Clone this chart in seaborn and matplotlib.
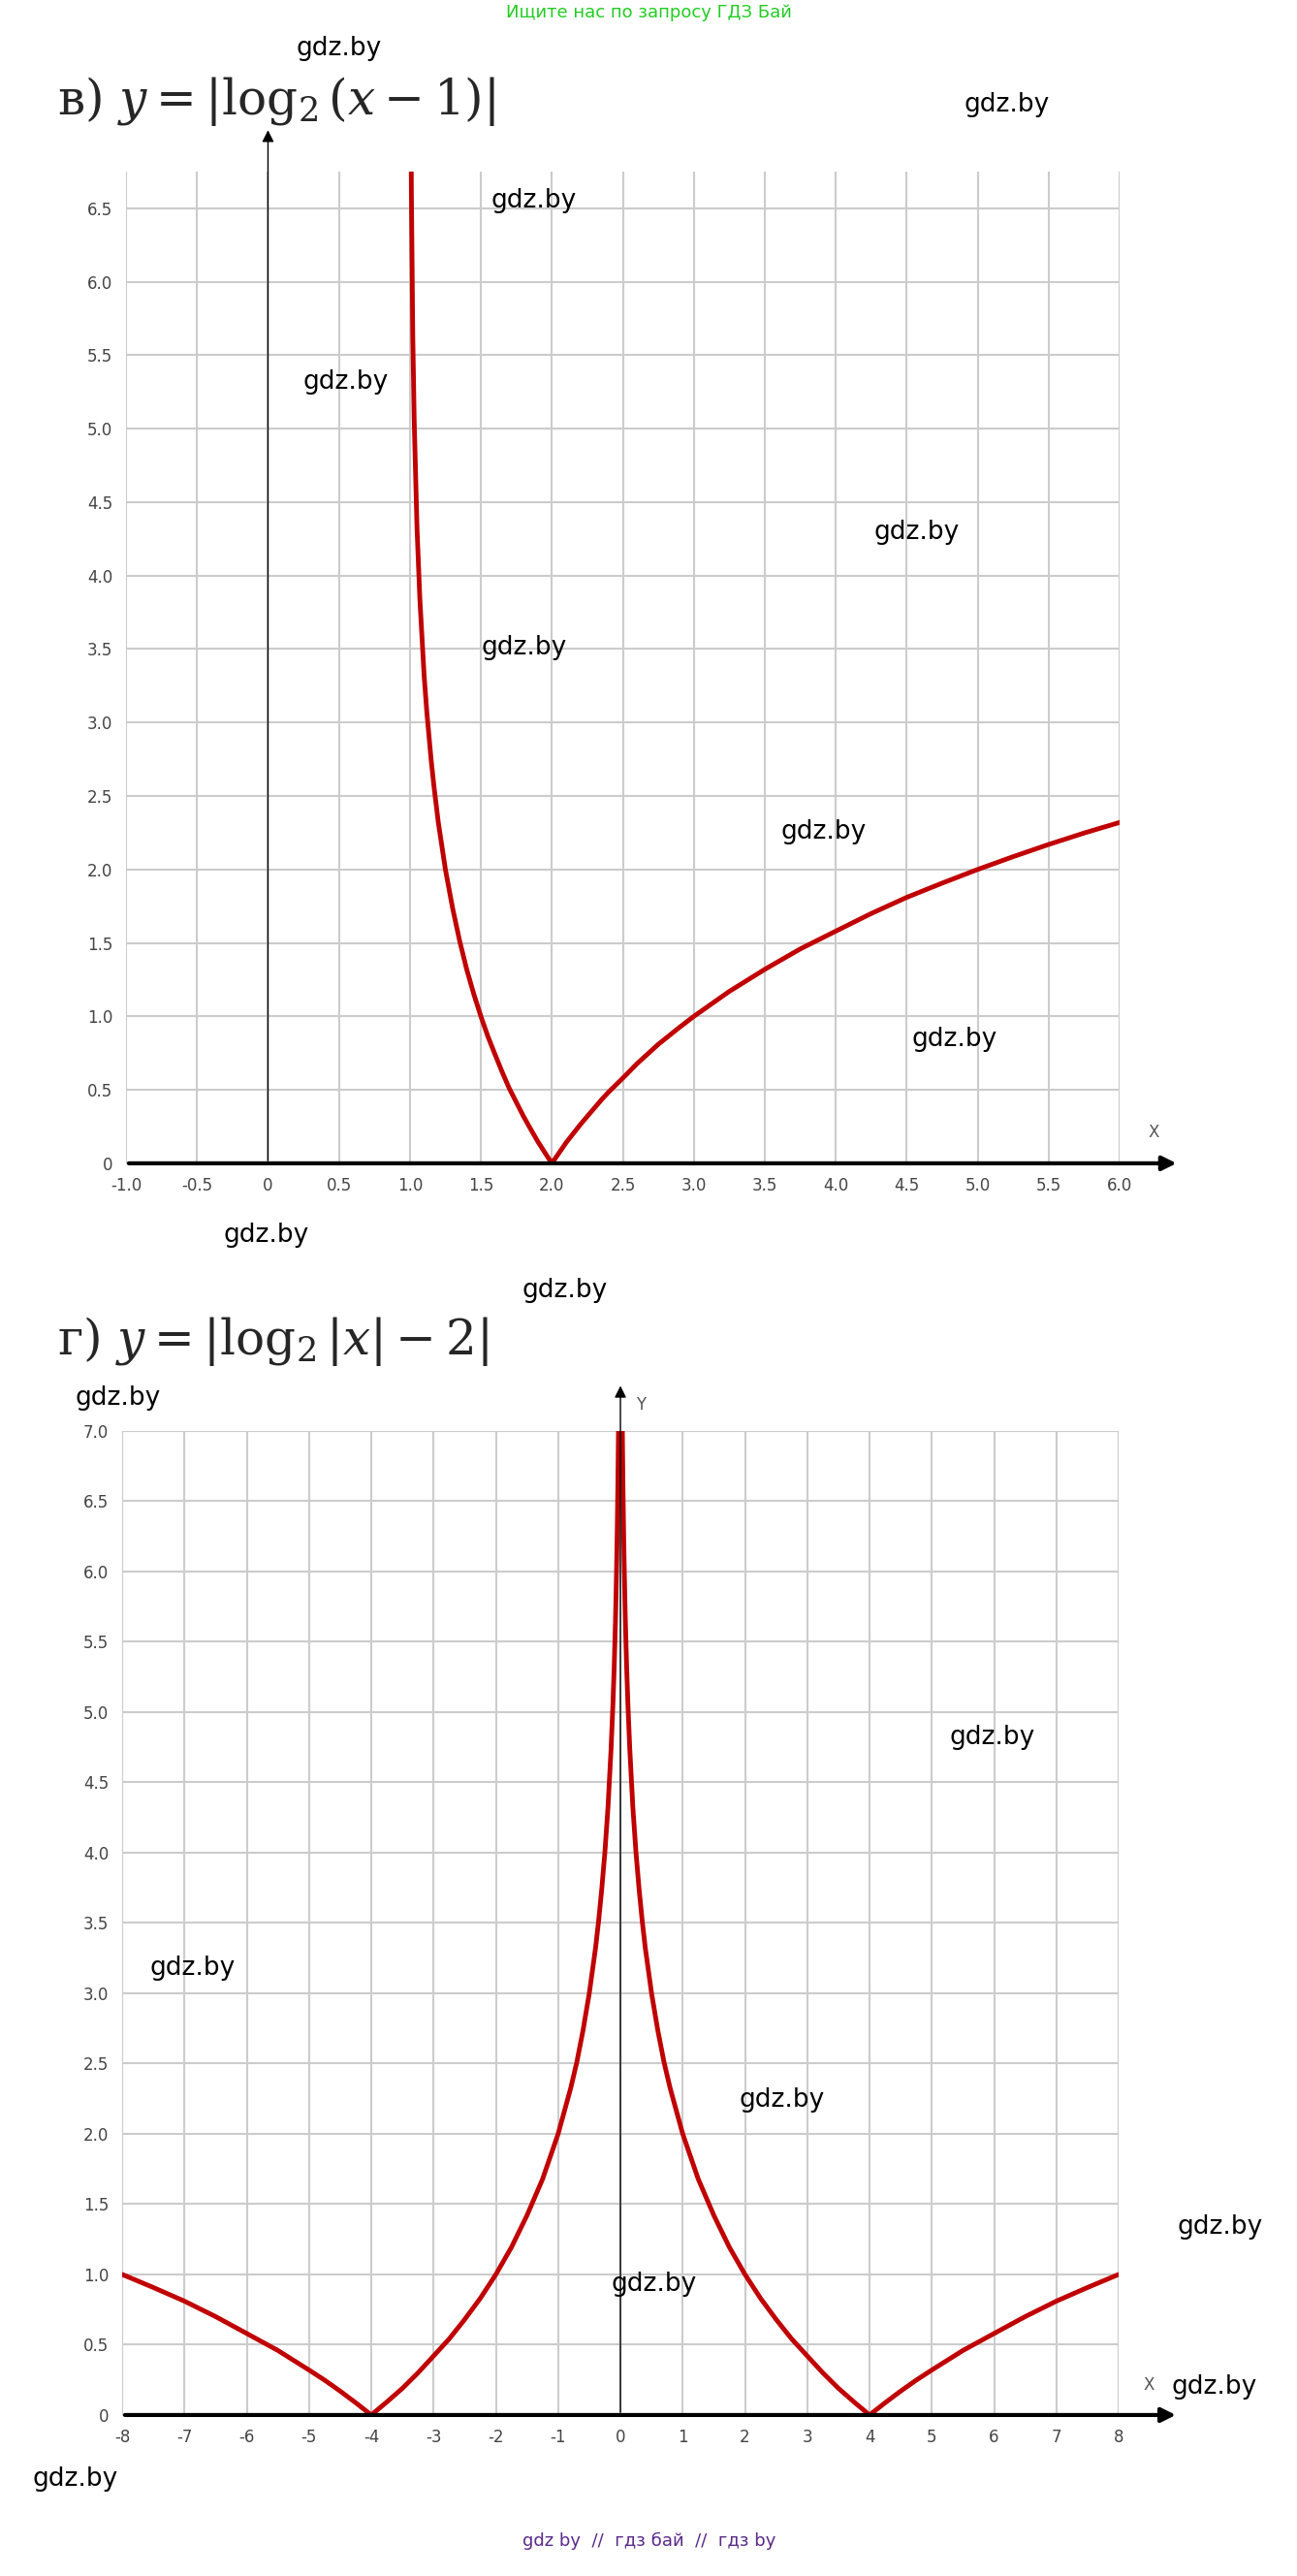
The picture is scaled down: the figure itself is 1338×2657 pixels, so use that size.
import numpy as np
import matplotlib
matplotlib.use('Agg')
import matplotlib.pyplot as plt
import seaborn as sns

sns.set_style('white')
plt.rcParams['font.family'] = ['DejaVu Sans']
plt.rcParams['mathtext.fontset'] = 'dejavuserif'

# graph в): y = |log2(x - 1)|
x1 = [1.0095, 1.01, 1.02, 1.03, 1.05, 1.07, 1.1, 1.12, 1.15, 1.17, 1.2, 1.25, 1.3, 1.35, 1.4,
      1.45, 1.5, 1.55, 1.6, 1.65, 1.7, 1.75, 1.8, 1.85, 1.9, 1.95, 2.0, 2.05, 2.1, 2.15, 2.2,
      2.25, 2.35, 2.4, 2.5, 2.6, 2.75, 2.9, 3.0, 3.25, 3.5, 3.75, 4.0, 4.25, 4.5, 4.75, 5.0,
      5.25, 5.5, 5.75, 6.0]
y1 = [6.75, 6.64, 5.64, 5.06, 4.32, 3.84, 3.32, 3.06, 2.74, 2.56, 2.32, 2.0, 1.74, 1.515, 1.32,
      1.152, 1.0, 0.862, 0.74, 0.621, 0.51, 0.415, 0.32, 0.234, 0.15, 0.074, 0.0, 0.07, 0.14,
      0.202, 0.263, 0.32, 0.433, 0.485, 0.58, 0.678, 0.81, 0.926, 1.0, 1.17, 1.32, 1.459, 1.58,
      1.70, 1.81, 1.907, 2.0, 2.087, 2.17, 2.248, 2.32]

# graph г): y = |log2|x| - 2|, right half (left half is the mirror)
x2r = [0.0312, 0.035, 0.04, 0.05, 0.06, 0.07, 0.08, 0.1, 0.12, 0.15, 0.2, 0.25, 0.3, 0.35,
       0.4, 0.5, 0.6, 0.7, 0.8, 1.0, 1.25, 1.5, 1.75, 2.0, 2.25, 2.5, 2.75, 3.0, 3.25, 3.5,
       3.75, 4.0, 4.25, 4.5, 4.75, 5.0, 5.5, 6.0, 6.5, 7.0, 7.5, 8.0]
y2r = [7.0, 6.84, 6.64, 6.32, 6.06, 5.84, 5.64, 5.32, 5.06, 4.74, 4.32, 4.0, 3.74, 3.515,
       3.32, 3.0, 2.737, 2.51, 2.322, 2.0, 1.678, 1.42, 1.193, 1.0, 0.83, 0.68, 0.541, 0.42,
       0.30, 0.19, 0.093, 0.0, 0.087, 0.17, 0.248, 0.32, 0.459, 0.58, 0.70, 0.81, 0.907, 1.0]

x1_ticks = [-1.0, -0.5, 0, 0.5, 1.0, 1.5, 2.0, 2.5, 3.0, 3.5, 4.0, 4.5, 5.0, 5.5, 6.0]
x1_labels = ['-1.0', '-0.5', '0', '0.5', '1.0', '1.5', '2.0', '2.5', '3.0', '3.5', '4.0',
             '4.5', '5.0', '5.5', '6.0']
y1_ticks = [0, 0.5, 1, 1.5, 2, 2.5, 3, 3.5, 4, 4.5, 5, 5.5, 6, 6.5]
y1_labels = ['0'] + ['%.1f' % v for v in y1_ticks[1:]]
x2_ticks = list(range(-8, 9))
x2_labels = [str(v) for v in x2_ticks]
y2_ticks = [0, 0.5, 1, 1.5, 2, 2.5, 3, 3.5, 4, 4.5, 5, 5.5, 6, 6.5, 7]
y2_labels = ['0'] + ['%.1f' % v for v in y2_ticks[1:]]

x2 = [-v for v in x2r[::-1]] + x2r
y2 = y2r[::-1] + y2r

W, H = 1338, 2657
S = W / 795.0
fig = plt.figure(figsize=(W / 100, H / 100), dpi=100)


def fx(x):
    return x * S / W


def fy(y):
    return 1 - y * S / H


RED = '#c00000'
GRID = '#cccccc'


def setup(ax, xt, xl, yt, yl, xlim, ylim):
    ax.set_xlim(*xlim)
    ax.set_ylim(*ylim)
    ax.set_xticks(xt)
    ax.set_xticklabels(xl, fontsize=12, color='#444444')
    ax.set_yticks(yt)
    ax.set_yticklabels(yl, fontsize=12, color='#444444')
    ax.tick_params(length=0, pad=10)
    ax.grid(True, color=GRID, lw=1.5)
    for s in ax.spines.values():
        s.set_visible(False)
    ax.annotate('', xy=(xlim[1] + (xlim[1] - xlim[0]) * 0.06, 0), xytext=(xlim[0], 0),
                arrowprops=dict(arrowstyle='-|>', color='black', lw=3, mutation_scale=22),
                annotation_clip=False)


ax1 = fig.add_axes([0.0972, 0.5484, 0.7660, 0.3850])
setup(ax1, x1_ticks, x1_labels, y1_ticks, y1_labels, (-1, 6), (0, 6.75))
ax1.annotate('', xy=(0, 7.05), xytext=(0, 0),
             arrowprops=dict(arrowstyle='-|>', color='black', lw=1, mutation_scale=18),
             annotation_clip=False)
sns.lineplot(x=x1, y=y1, sort=False, estimator=None, color=RED, lw=3.5, ax=ax1)
ax1.text(6.2, 0.18, 'X', fontsize=12, color='#555555')

ax2 = fig.add_axes([0.0942, 0.0625, 0.7683, 0.3820])
setup(ax2, x2_ticks, x2_labels, y2_ticks, y2_labels, (-8, 8), (0, 7))
ax2.annotate('', xy=(0, 7.34), xytext=(0, 0),
             arrowprops=dict(arrowstyle='-|>', color='black', lw=1, mutation_scale=18),
             annotation_clip=False)
sns.lineplot(x=x2, y=y2, sort=False, estimator=None, color=RED, lw=3.5, ax=ax2)
ax2.text(8.4, 0.18, 'X', fontsize=12, color='#555555')
ax2.text(0.25, 7.15, 'Y', fontsize=12, color='#555555')

fig.text(fx(35), fy(62), 'в) $y = |\\log_2(x - 1)|$', fontsize=36, va='center',
         family='DejaVu Serif')
fig.text(fx(35), fy(822), 'г) $y = |\\log_2|x| - 2|$', fontsize=36, va='center',
         family='DejaVu Serif')

fig.text(fx(398), fy(8), 'Ищите нас по запросу ГДЗ Бай', fontsize=13, color='#22cc22',
         ha='center', va='center')
fig.text(fx(398), fy(1557), 'gdz by  //  гдз бай  //  гдз by', fontsize=13, color='#5a2a8a',
         ha='center', va='center')

marks = [(208, 30), (617, 64), (327, 123), (212, 234), (562, 326), (321, 397), (505, 510),
         (585, 637), (163, 757), (346, 791), (72, 857), (608, 1065), (118, 1206), (479, 1287),
         (748, 1365), (401, 1400), (744, 1463), (46, 1519)]
for mx, my in marks:
    fig.text(fx(mx), fy(my), 'gdz.by', fontsize=19, ha='center', va='center', color='black')

fig.savefig('out.png', dpi=100)
